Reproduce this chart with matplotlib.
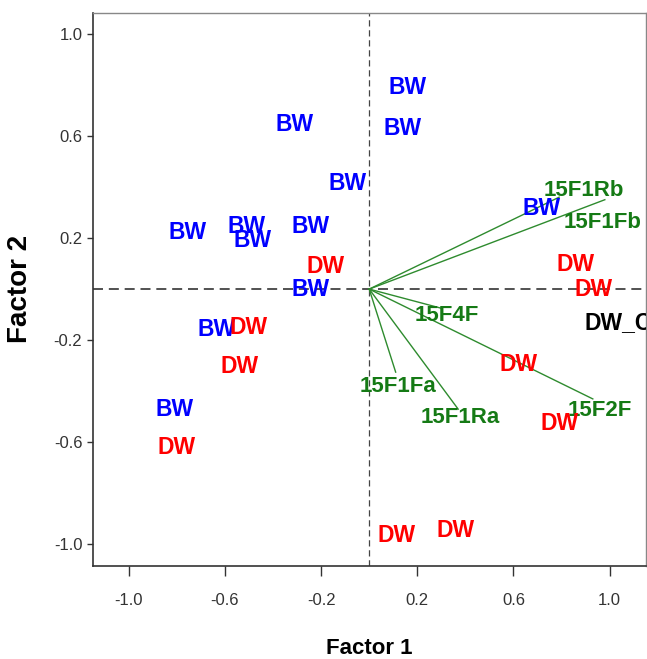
import numpy as np
import matplotlib
matplotlib.use("Agg")
import matplotlib.pyplot as plt

plt.rcParams['font.family'] = ['Liberation Sans', 'DejaVu Sans']

# observation scores (Factor 1, Factor 2)
bw_x = [0.16, 0.14, -0.31, -0.09, -0.755, -0.51, -0.485, -0.245, -0.245, 0.715, -0.635, -0.81]
bw_y = [0.79, 0.63, 0.645, 0.415, 0.22, 0.245, 0.19, 0.245, 0.0, 0.315, -0.16, -0.47]
dw_x = [-0.18, -0.5, -0.54, -0.8, 0.86, 0.935, 0.62, 0.79, 0.115, 0.36]
dw_y = [0.09, -0.15, -0.305, -0.62, 0.095, 0.0, -0.295, -0.525, -0.965, -0.945]
dwc_x, dwc_y = 1.035, -0.13

# variable loadings
vec_names = ['15F1Rb', '15F1Fb', '15F4F', '15F1Fa', '15F1Ra', '15F2F']
vec_x = [0.79, 0.98, 0.30, 0.11, 0.37, 0.93]
vec_y = [0.36, 0.35, -0.075, -0.325, -0.47, -0.43]
# label offsets from the arrow tips, pixels
lab_off = [(25, 7), (-2, -23), (5, -7), (2, -14), (2, -8), (7, -12)]

fig = plt.figure(figsize=(6.47, 6.59), dpi=100)
ax = fig.add_axes([0.1433, 0.1416, 0.998 - 0.1433, 0.981 - 0.1416])

ax.axhline(0, color='#333333', lw=1.2, ls=(0, (6, 3.5)), zorder=1)
ax.axvline(0, color='#444444', lw=0.9, ls=(0, (5, 3)), zorder=1)

green_line = '#2e8b2e'
green_txt = '#157a15'
for name, vx, vy, off in zip(vec_names, vec_x, vec_y, lab_off):
    ax.plot([0, vx], [0, vy], color=green_line, lw=1.0, zorder=2)
    ax.annotate(name, (vx, vy), xytext=off, textcoords='offset pixels',
                ha='center', va='center', color=green_txt, fontsize=16,
                fontweight='bold', zorder=3)

for x, y in zip(bw_x, bw_y):
    ax.text(x, y, 'BW', color='#0000ff', fontsize=16.5, fontweight='bold',
            ha='center', va='center', zorder=3)
for x, y in zip(dw_x, dw_y):
    ax.text(x, y, 'DW', color='#ff0000', fontsize=16.5, fontweight='bold',
            ha='center', va='center', zorder=3)
ax.text(dwc_x, dwc_y, 'DW_C', color='black', fontsize=16.5, fontweight='bold',
        ha='center', va='center', zorder=3, clip_on=True)

ax.set_xlim(-1.15, 1.15)
ax.set_ylim(-1.083, 1.083)
ticks = [-1.0, -0.6, -0.2, 0.2, 0.6, 1.0]
ax.set_xticks(ticks)
ax.set_yticks(ticks)
ax.set_xticklabels([f'{t:.1f}' for t in ticks])
ax.set_yticklabels([f'{t:.1f}' for t in ticks])
ax.tick_params(axis='x', length=7.5, width=1, color='#333333', pad=12,
               labelsize=12, labelcolor='#333333')
ax.tick_params(axis='y', length=4.5, width=1, color='#333333', pad=3,
               labelsize=12, labelcolor='#333333')

for s in ['left', 'bottom']:
    ax.spines[s].set_color('#333333')
    ax.spines[s].set_linewidth(1.2)
for s in ['top', 'right']:
    ax.spines[s].set_color('#888888')
    ax.spines[s].set_linewidth(1.0)

ax.set_xlabel('Factor 1', fontsize=16, fontweight='bold')
ax.set_ylabel('Factor 2', fontsize=20, fontweight='bold')
ax.xaxis.set_label_coords(0.5, -0.13)
ax.yaxis.set_label_coords(-0.108, 0.5)

fig.savefig('out.png', dpi=100)
